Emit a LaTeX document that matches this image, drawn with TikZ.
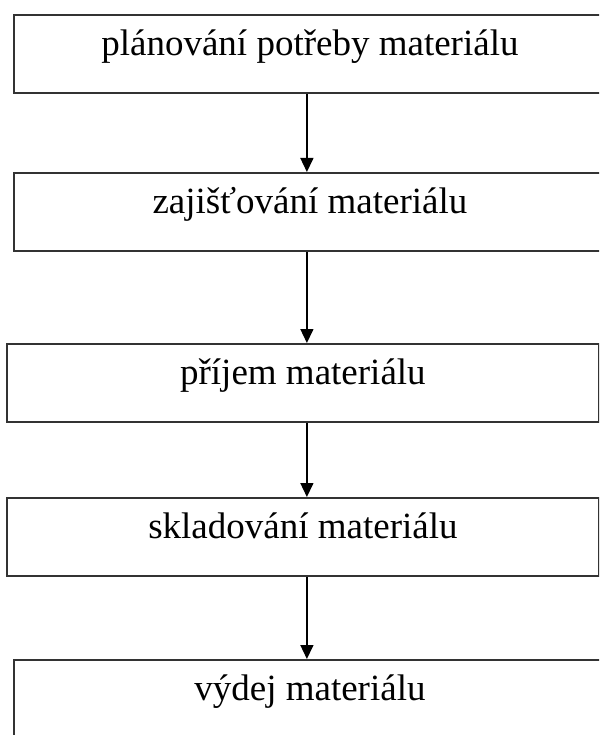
\documentclass[tikz,border=0pt]{standalone}
\usepackage{fontspec}
\setmainfont{Liberation Serif}
\usetikzlibrary{arrows.meta}
\begin{document}
\begin{tikzpicture}[x=1pt,y=-1pt,
  stage/.style={draw=black!80, line width=1.8pt, anchor=north west,
    minimum width=592pt, minimum height=78pt, inner sep=0pt,
    text height=0.7em, text depth=0.35em,
    font=\fontsize{37}{42}\selectfont},
  flow/.style={draw=black, line width=1.5pt,
    -{Triangle[length=14pt,width=13pt]}}]
\useasboundingbox (0,0) rectangle (599,735);
\clip (0,0) rectangle (599,735);
% five process stages, stacked top to bottom
\node[stage] (s1) at (13,14)  {plánování potřeby materiálu};
\node[stage] (s2) at (13,172) {zajišťování materiálu};
\node[stage] (s3) at (6,343)  {příjem materiálu};
\node[stage] (s4) at (6,497)  {skladování materiálu};
\node[stage] (s5) at (13,659) {výdej materiálu};
% downward connectors between consecutive stages
\draw[flow] ([xshift=-3pt]s1.south) -- ([xshift=-3pt]s2.north);
\draw[flow] ([xshift=-3pt]s2.south) -- ([xshift=4pt]s3.north);
\draw[flow] ([xshift=4pt]s3.south) -- ([xshift=4pt]s4.north);
\draw[flow] ([xshift=4pt]s4.south) -- ([xshift=-3pt]s5.north);
\end{tikzpicture}
\end{document}
